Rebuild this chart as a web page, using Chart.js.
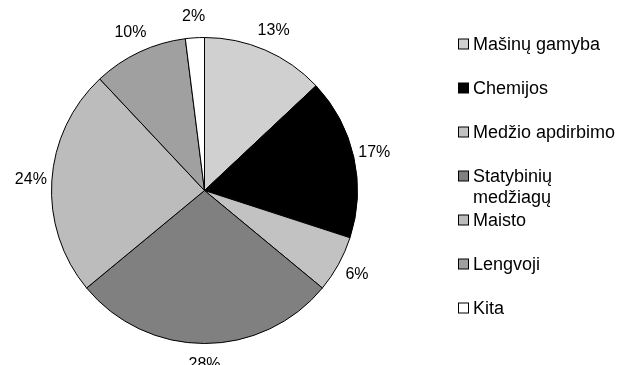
<!DOCTYPE html>
<html>
<head>
<meta charset="utf-8">
<script src="https://cdn.jsdelivr.net/npm/chart.js@4.4.1/dist/chart.umd.min.js"></script>
<style>
  html, body { margin: 0; padding: 0; background: #ffffff; }
  #wrap { width: 621px; height: 365px; position: relative; }
</style>
</head>
<body>
<div id="wrap"><canvas id="c" width="621" height="365"></canvas></div>
<script>
const categories = ['Mašinų gamyba', 'Chemijos', 'Medžio apdirbimo', ['Statybinių', 'medžiagų'], 'Maisto', 'Lengvoji', 'Kita'];
const shares = [13, 17, 6, 28, 24, 10, 2];
const sliceColors = ['#d0d0d0', '#000000', '#c2c2c2', '#808080', '#bcbcbc', '#a0a0a0', '#ffffff'];

const FONT = '"Liberation Sans", Arial, Helvetica, sans-serif';

const pctLabels = {
  id: 'pctLabels',
  afterDatasetsDraw(chart) {
    const ctx = chart.ctx;
    const meta = chart.getDatasetMeta(0);
    const data = chart.data.datasets[0].data;
    const total = data.reduce((a, b) => a + b, 0);
    ctx.save();
    ctx.font = '16px ' + FONT;
    ctx.fillStyle = '#000';
    ctx.textAlign = 'center';
    ctx.textBaseline = 'middle';
    meta.data.forEach((arc, i) => {
      const p = arc.getProps(['x', 'y', 'startAngle', 'endAngle', 'outerRadius'], true);
      const mid = (p.startAngle + p.endAngle) / 2;
      const r = p.outerRadius + 21;
      const txt = Math.round(data[i] / total * 100) + '%';
      ctx.fillText(txt, p.x + Math.cos(mid) * r, p.y + Math.sin(mid) * r);
    });
    ctx.restore();
  }
};

const sideLegend = {
  id: 'sideLegend',
  afterDraw(chart) {
    const ctx = chart.ctx;
    const labels = chart.data.labels;
    const colors = chart.data.datasets[0].backgroundColor;
    const boxX = 458, textX = 473, y0 = 44, rowGap = 44, lineGap = 21, box = 11;
    ctx.save();
    ctx.font = '18px ' + FONT;
    ctx.textAlign = 'left';
    ctx.textBaseline = 'middle';
    labels.forEach((lab, i) => {
      const y = y0 + i * rowGap;
      ctx.fillStyle = colors[i];
      ctx.fillRect(boxX + 0.5, y - box / 2 + 0.5, box - 1, box - 1);
      ctx.strokeStyle = '#000';
      ctx.lineWidth = 1;
      ctx.strokeRect(boxX + 0.5, y - box / 2 + 0.5, box - 1, box - 1);
      ctx.fillStyle = '#000';
      const lines = Array.isArray(lab) ? lab : [lab];
      lines.forEach((ln, k) => ctx.fillText(ln, textX, y + k * lineGap + 1));
    });
    ctx.restore();
  }
};

new Chart(document.getElementById('c'), {
  type: 'pie',
  data: {
    labels: categories,
    datasets: [{
      data: shares,
      backgroundColor: sliceColors,
      borderColor: '#000000',
      borderWidth: 1
    }]
  },
  options: {
    responsive: false,
    animation: false,
    layout: { padding: { left: 51, top: 37, right: 263, bottom: 21 } },
    plugins: {
      legend: { display: false },
      tooltip: { enabled: false }
    }
  },
  plugins: [pctLabels, sideLegend]
});
</script>
</body>
</html>
